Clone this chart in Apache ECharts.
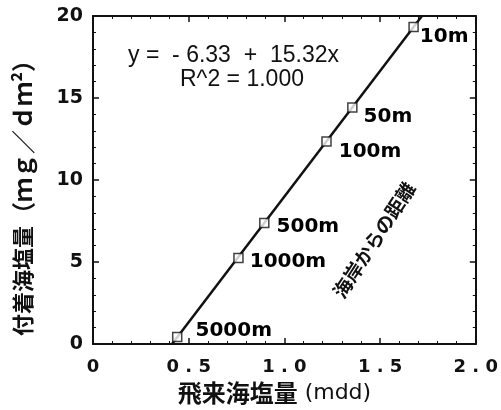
<!DOCTYPE html>
<html>
<head>
<meta charset="utf-8">
<script src="https://cdn.jsdelivr.net/npm/echarts@6/dist/echarts.min.js"></script>
<style>
  html, body { margin: 0; padding: 0; background: #fff; }
  #chart { width: 501px; height: 410px; }
</style>
</head>
<body>
<div id="chart"></div>
<script>
// Sampling points, labelled by distance from the coast
const distances = ['10m', '50m', '100m', '500m', '1000m', '5000m'];
const flyingSalt = [1.675, 1.355, 1.22, 0.895, 0.76, 0.44];      // mdd
const depositedSalt = [19.33, 14.42, 12.35, 7.38, 5.25, 0.42];   // mg/dm²

// Linear fit y = a + b x
const fitIntercept = -6.33;
const fitSlope = 15.32;
const fitR2 = '1.000';

const xTickValues = [0, 0.5, 1.0, 1.5, 2.0];
const yTickValues = [0, 5, 10, 15, 20];

const labelOffsets = [[-4, 10], [1, 9], [2, 10], [2, 4], [1, 4], [8, -6]];

const ink = '#111';
const yMin = 0, yMax = 20;

const fitLine = [
  [(yMin - fitIntercept) / fitSlope, yMin],
  [(yMax - fitIntercept) / fitSlope, yMax]
];

const pointLabel = {
  show: true, position: 'right', formatter: '{b}',
  fontFamily: 'DejaVu Sans', fontSize: 20, fontWeight: 'bold',
  color: '#000', opacity: 1, textBorderWidth: 0
};

const points = flyingSalt.map((x, i) => ({
  value: [x, depositedSalt[i]],
  name: distances[i],
  label: Object.assign({}, pointLabel, { offset: labelOffsets[i] })
}));

const fmtX = v => (v === 0 ? '0' : v.toFixed(1).split('').join(' '));

const axisCommon = {
  axisLine: { show: true, onZero: false, lineStyle: { color: ink, width: 2 } },
  axisTick: { show: true, inside: true, length: 6, lineStyle: { color: ink, width: 1.5 } },
  minorTick: { show: true, splitNumber: 5, length: 3, lineStyle: { color: ink, width: 1 } },
  splitLine: { show: false }
};

const chart = echarts.init(document.getElementById('chart'));
chart.setOption({
  animation: false,
  backgroundColor: '#fff',
  grid: { left: 93, right: 21, top: 16, bottom: 61 },
  xAxis: [
    Object.assign({}, axisCommon, {
      type: 'value', min: 0, max: 2, interval: 0.5,
      name: '{c|飛来海塩量}{u| (mdd)}',
      nameLocation: 'middle', nameGap: 37,
      nameTextStyle: {
        color: ink, padding: [0, 20, 0, 0],
        rich: {
          c: { fontFamily: 'Noto Sans CJK JP', fontSize: 24, fontWeight: 'bold', color: ink },
          u: { fontFamily: 'DejaVu Sans', fontSize: 22, color: ink }
        }
      },
      axisLabel: { formatter: fmtX, margin: 14, fontFamily: 'DejaVu Sans', fontSize: 18, fontWeight: 'bold', color: ink }
    }),
    Object.assign({}, axisCommon, {
      type: 'value', min: 0, max: 2, interval: 0.5, position: 'top',
      axisLabel: { show: false }
    })
  ],
  yAxis: [
    Object.assign({}, axisCommon, {
      type: 'value', min: yMin, max: yMax, interval: 5,
      name: '{c|付着海塩量}{u|（ｍｇ／ｄｍ²）}',
      nameLocation: 'middle', nameGap: 58,
      nameTextStyle: {
        color: ink, padding: [0, 24, 0, 0],
        rich: {
          c: { fontFamily: 'Noto Sans CJK JP', fontSize: 22, fontWeight: 'bold', color: ink },
          u: { fontFamily: 'Noto Sans CJK JP', fontSize: 24, fontWeight: 'bold', color: ink }
        }
      },
      axisLabel: { margin: 10, fontFamily: 'DejaVu Sans', fontSize: 19, fontWeight: 'bold', color: ink }
    }),
    Object.assign({}, axisCommon, {
      type: 'value', min: yMin, max: yMax, interval: 5, position: 'right',
      axisLabel: { show: false }
    })
  ],
  series: [
    {
      type: 'line',
      data: fitLine,
      symbol: 'none',
      lineStyle: { color: ink, width: 2.5 },
      z: 2
    },
    {
      type: 'scatter',
      data: points,
      symbol: 'rect',
      symbolSize: 9,
      itemStyle: { color: '#fff', borderColor: ink, borderWidth: 1.5 },
      label: pointLabel,
      z: 3
    }
  ],
  graphic: [
    {
      type: 'text', left: 128, top: 44,
      style: { text: 'y =  - 6.33  +  15.32x', fontFamily: 'Liberation Sans', fontSize: 23, fill: ink }
    },
    {
      type: 'text', left: 180, top: 68,
      style: { text: 'R^2 = ' + fitR2, fontFamily: 'Liberation Sans', fontSize: 23, fill: ink }
    },
    {
      type: 'text', x: 374, y: 240, rotation: 57 * Math.PI / 180,
      style: { text: '海岸からの距離', fontFamily: 'Noto Sans CJK JP', fontSize: 19, fontWeight: 'bold', fill: ink, align: 'center', verticalAlign: 'middle' }
    }
  ]
});
</script>
</body>
</html>
